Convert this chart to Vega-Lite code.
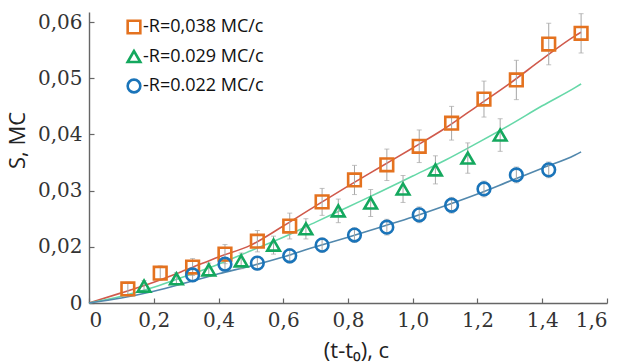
{
  "$schema": "https://vega.github.io/schema/vega-lite/v6.json",
  "autosize": {"type": "none"},
  "padding": {"left": 89, "top": 12, "right": 19, "bottom": 61},
  "width": 518,
  "height": 291,
  "background": "white",
  "config": {
    "view": {"stroke": null},
    "axis": {
      "grid": false,
      "domainColor": "#666666",
      "domainWidth": 1.4,
      "tickColor": "#666666",
      "tickWidth": 1.2,
      "tickSize": -5,
      "labelFont": "DejaVu Serif",
      "labelFontSize": 20,
      "labelColor": "#333333",
      "titleFont": "Open Sans",
      "titleFontSize": 22,
      "titleFontWeight": "normal",
      "titleColor": "#222222"
    }
  },
  "datasets": {
    "points": [
      {"series": "-R=0,038 MC/c", "t": 0.12, "s": 0.0125, "err": 0.0012},
      {"series": "-R=0,038 MC/c", "t": 0.22, "s": 0.0153, "err": 0.0013},
      {"series": "-R=0,038 MC/c", "t": 0.32, "s": 0.0164, "err": 0.0015},
      {"series": "-R=0,038 MC/c", "t": 0.42, "s": 0.0187, "err": 0.0017},
      {"series": "-R=0,038 MC/c", "t": 0.52, "s": 0.0210, "err": 0.0019},
      {"series": "-R=0,038 MC/c", "t": 0.62, "s": 0.0237, "err": 0.0023},
      {"series": "-R=0,038 MC/c", "t": 0.72, "s": 0.0280, "err": 0.0024},
      {"series": "-R=0,038 MC/c", "t": 0.82, "s": 0.0319, "err": 0.0026},
      {"series": "-R=0,038 MC/c", "t": 0.92, "s": 0.0346, "err": 0.0028},
      {"series": "-R=0,038 MC/c", "t": 1.02, "s": 0.0379, "err": 0.0029},
      {"series": "-R=0,038 MC/c", "t": 1.12, "s": 0.0420, "err": 0.0030},
      {"series": "-R=0,038 MC/c", "t": 1.22, "s": 0.0463, "err": 0.0032},
      {"series": "-R=0,038 MC/c", "t": 1.32, "s": 0.0497, "err": 0.0035},
      {"series": "-R=0,038 MC/c", "t": 1.42, "s": 0.0561, "err": 0.0037},
      {"series": "-R=0,038 MC/c", "t": 1.52, "s": 0.0580, "err": 0.0035},
      {"series": "-R=0.029 MC/c", "t": 0.17, "s": 0.0130, "err": 0.0010},
      {"series": "-R=0.029 MC/c", "t": 0.27, "s": 0.0143, "err": 0.0011},
      {"series": "-R=0.029 MC/c", "t": 0.37, "s": 0.0159, "err": 0.0012},
      {"series": "-R=0.029 MC/c", "t": 0.47, "s": 0.0175, "err": 0.0014},
      {"series": "-R=0.029 MC/c", "t": 0.57, "s": 0.0203, "err": 0.0016},
      {"series": "-R=0.029 MC/c", "t": 0.67, "s": 0.0232, "err": 0.0018},
      {"series": "-R=0.029 MC/c", "t": 0.77, "s": 0.0264, "err": 0.0021},
      {"series": "-R=0.029 MC/c", "t": 0.87, "s": 0.0278, "err": 0.0024},
      {"series": "-R=0.029 MC/c", "t": 0.97, "s": 0.0303, "err": 0.0024},
      {"series": "-R=0.029 MC/c", "t": 1.07, "s": 0.0337, "err": 0.0025},
      {"series": "-R=0.029 MC/c", "t": 1.17, "s": 0.0358, "err": 0.0027},
      {"series": "-R=0.029 MC/c", "t": 1.27, "s": 0.0399, "err": 0.0029},
      {"series": "-R=0.022 MC/c", "t": 0.32, "s": 0.0150, "err": 0.0012},
      {"series": "-R=0.022 MC/c", "t": 0.42, "s": 0.0169, "err": 0.0012},
      {"series": "-R=0.022 MC/c", "t": 0.52, "s": 0.0171, "err": 0.0012},
      {"series": "-R=0.022 MC/c", "t": 0.62, "s": 0.0184, "err": 0.0013},
      {"series": "-R=0.022 MC/c", "t": 0.72, "s": 0.0203, "err": 0.0013},
      {"series": "-R=0.022 MC/c", "t": 0.82, "s": 0.0221, "err": 0.0013},
      {"series": "-R=0.022 MC/c", "t": 0.92, "s": 0.0235, "err": 0.0014},
      {"series": "-R=0.022 MC/c", "t": 1.02, "s": 0.0257, "err": 0.0014},
      {"series": "-R=0.022 MC/c", "t": 1.12, "s": 0.0274, "err": 0.0014},
      {"series": "-R=0.022 MC/c", "t": 1.22, "s": 0.0303, "err": 0.0014},
      {"series": "-R=0.022 MC/c", "t": 1.32, "s": 0.0328, "err": 0.0014},
      {"series": "-R=0.022 MC/c", "t": 1.42, "s": 0.0337, "err": 0.0014}
    ],
    "curves": [
      {"fit": "R038", "t": 0.0, "s": 0.0100},
      {"fit": "R038", "t": 0.1, "s": 0.0118},
      {"fit": "R038", "t": 0.2, "s": 0.0137},
      {"fit": "R038", "t": 0.3, "s": 0.0159},
      {"fit": "R038", "t": 0.4, "s": 0.0182},
      {"fit": "R038", "t": 0.5, "s": 0.0203},
      {"fit": "R038", "t": 0.6, "s": 0.0237},
      {"fit": "R038", "t": 0.7, "s": 0.0273},
      {"fit": "R038", "t": 0.8, "s": 0.0308},
      {"fit": "R038", "t": 0.9, "s": 0.0342},
      {"fit": "R038", "t": 1.0, "s": 0.0376},
      {"fit": "R038", "t": 1.1, "s": 0.0411},
      {"fit": "R038", "t": 1.2, "s": 0.0451},
      {"fit": "R038", "t": 1.3, "s": 0.0491},
      {"fit": "R038", "t": 1.4, "s": 0.0534},
      {"fit": "R038", "t": 1.5, "s": 0.0575},
      {"fit": "R038", "t": 1.52, "s": 0.0582},
      {"fit": "R029", "t": 0.0, "s": 0.0100},
      {"fit": "R029", "t": 0.1, "s": 0.0112},
      {"fit": "R029", "t": 0.2, "s": 0.0128},
      {"fit": "R029", "t": 0.3, "s": 0.0148},
      {"fit": "R029", "t": 0.4, "s": 0.0169},
      {"fit": "R029", "t": 0.5, "s": 0.0193},
      {"fit": "R029", "t": 0.6, "s": 0.0217},
      {"fit": "R029", "t": 0.7, "s": 0.0244},
      {"fit": "R029", "t": 0.8, "s": 0.0271},
      {"fit": "R029", "t": 0.9, "s": 0.0298},
      {"fit": "R029", "t": 1.0, "s": 0.0326},
      {"fit": "R029", "t": 1.1, "s": 0.0354},
      {"fit": "R029", "t": 1.2, "s": 0.0385},
      {"fit": "R029", "t": 1.3, "s": 0.0417},
      {"fit": "R029", "t": 1.4, "s": 0.0451},
      {"fit": "R029", "t": 1.5, "s": 0.0483},
      {"fit": "R029", "t": 1.52, "s": 0.0490},
      {"fit": "R022", "t": 0.0, "s": 0.0100},
      {"fit": "R022", "t": 0.1, "s": 0.0109},
      {"fit": "R022", "t": 0.2, "s": 0.0121},
      {"fit": "R022", "t": 0.3, "s": 0.0136},
      {"fit": "R022", "t": 0.4, "s": 0.0152},
      {"fit": "R022", "t": 0.5, "s": 0.0166},
      {"fit": "R022", "t": 0.6, "s": 0.0182},
      {"fit": "R022", "t": 0.7, "s": 0.0200},
      {"fit": "R022", "t": 0.8, "s": 0.0217},
      {"fit": "R022", "t": 0.9, "s": 0.0235},
      {"fit": "R022", "t": 1.0, "s": 0.0253},
      {"fit": "R022", "t": 1.1, "s": 0.0273},
      {"fit": "R022", "t": 1.2, "s": 0.0294},
      {"fit": "R022", "t": 1.3, "s": 0.0317},
      {"fit": "R022", "t": 1.4, "s": 0.0340},
      {"fit": "R022", "t": 1.5, "s": 0.0363},
      {"fit": "R022", "t": 1.52, "s": 0.0369}
    ]
  },
  "encoding": {
    "x": {
      "field": "t",
      "type": "quantitative",
      "scale": {"domain": [0, 1.6], "nice": false, "zero": false},
      "axis": {
        "title": "(t-t₀), c",
        "values": [0, 0.2, 0.4, 0.6, 0.8, 1.0, 1.2, 1.4, 1.6],
        "labelExpr": "datum.value == 0 ? '0' : replace(format(datum.value, '.1f'), '.', ',')",
        "labelPadding": 12,
        "titleX": 267,
        "titleY": 54,
        "titleAnchor": null,
        "titleAlign": "center",
        "titleBaseline": "alphabetic"
      }
    },
    "y": {
      "field": "s",
      "type": "quantitative",
      "scale": {"domain": [0.01, 0.0618], "nice": false, "zero": false},
      "axis": {
        "title": "S, MC",
        "values": [0.01, 0.02, 0.03, 0.04, 0.05, 0.06],
        "labelExpr": "datum.value < 0.015 ? '0' : replace(format(datum.value, '.2f'), '.', ',')",
        "labelPadding": 12,
        "titleX": -72,
        "titleY": 128,
        "titleAnchor": null,
        "titleAlign": "center",
        "titleBaseline": "middle",
        "titleAngle": -90
      }
    }
  },
  "layer": [
    {
      "data": {"name": "curves"},
      "mark": {"type": "line", "strokeWidth": 1.6, "interpolate": "monotone"},
      "encoding": {
        "stroke": {
          "field": "fit",
          "type": "nominal",
          "scale": {
            "domain": ["R038", "R029", "R022"],
            "range": ["#d05a4c", "#66d8a8", "#5288ad"]
          },
          "legend": null
        }
      }
    },
    {
      "data": {"name": "points"},
      "mark": {"type": "errorbar", "ticks": {"size": 5}, "color": "#a6a6a6", "thickness": 1},
      "encoding": {
        "yError": {"field": "err"}
      }
    },
    {
      "data": {"name": "points"},
      "mark": {"type": "point", "filled": false, "strokeWidth": 2.6, "size": 160, "opacity": 1},
      "encoding": {
        "color": {
          "field": "series",
          "type": "nominal",
          "scale": {
            "domain": ["-R=0,038 MC/c", "-R=0.029 MC/c", "-R=0.022 MC/c"],
            "range": ["#e4721f", "#14a85e", "#1a74b9"]
          },
          "legend": {
            "title": null,
            "orient": "none",
            "legendX": 36,
            "legendY": 6,
            "labelFont": "Open Sans",
            "labelFontSize": 18,
            "labelColor": "#111111",
            "symbolSize": 160,
            "symbolStrokeWidth": 2.6,
            "rowPadding": 6.5,
            "labelOffset": 0
          }
        },
        "shape": {
          "field": "series",
          "type": "nominal",
          "scale": {
            "domain": ["-R=0,038 MC/c", "-R=0.029 MC/c", "-R=0.022 MC/c"],
            "range": ["square", "triangle-up", "circle"]
          },
          "legend": {
            "title": null,
            "orient": "none",
            "legendX": 36,
            "legendY": 6,
            "labelFont": "Open Sans",
            "labelFontSize": 18,
            "labelColor": "#111111",
            "symbolSize": 160,
            "symbolStrokeWidth": 2.6,
            "rowPadding": 6.5,
            "labelOffset": 0
          }
        }
      }
    }
  ]
}
